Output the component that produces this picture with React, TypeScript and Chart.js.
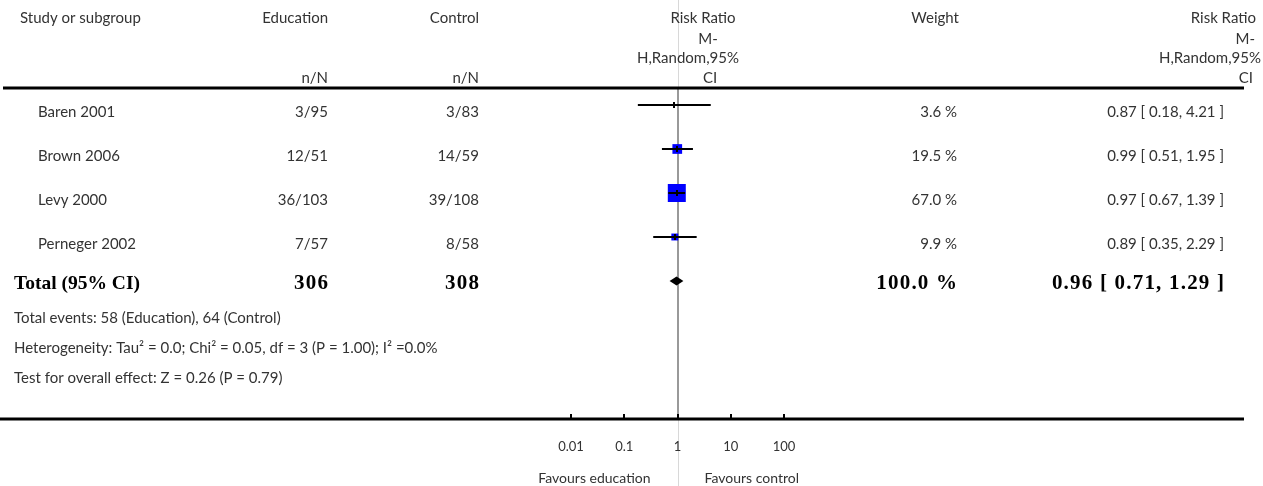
import React, { useEffect, useRef } from "react";
import { Chart, registerables } from "chart.js";

Chart.register(...registerables);

// ---- data ----
const studies = ["Baren 2001", "Brown 2006", "Levy 2000", "Perneger 2002"];
const eduEvents = [3, 12, 36, 7];
const eduTotal = [95, 51, 103, 57];
const ctrlEvents = [3, 14, 39, 8];
const ctrlTotal = [83, 59, 108, 58];
const weights = [3.6, 19.5, 67.0, 9.9];
const riskRatio = [0.87, 0.99, 0.97, 0.89];
const ciLow = [0.18, 0.51, 0.67, 0.35];
const ciHigh = [4.21, 1.95, 1.39, 2.29];
const totalEdu = 306;
const totalCtrl = 308;
const totalWeight = 100.0;
const totalRR = 0.96;
const totalLow = 0.71;
const totalHigh = 1.29;
const totalEventsEdu = 58;
const totalEventsCtrl = 64;
const tickValues = [0.01, 0.1, 1, 10, 100];
const tickLabels = ["0.01", "0.1", "1", "10", "100"];
const footnotes = [
  `Total events: ${totalEventsEdu} (Education), ${totalEventsCtrl} (Control)`,
  "Heterogeneity: Tau\u00B2 = 0.0; Chi\u00B2 = 0.05, df = 3 (P = 1.00); I\u00B2 =0.0%",
  "Test for overall effect: Z = 0.26 (P = 0.79)",
];

// ---- layout ----
const W = 1263;
const H = 486;
const SANS = "Lato, 'Open Sans', sans-serif";
const SERIF = "'Liberation Serif', 'DejaVu Serif', serif";
const TEXT = "#333";

const fmt2 = (v: number) => v.toFixed(2);
const ciText = (r: number, l: number, h: number) => `${fmt2(r)} [ ${fmt2(l)}, ${fmt2(h)} ]`;

const forestPlugin = {
  id: "forest",
  beforeDatasetsDraw(chart: any) {
    const ctx = chart.ctx;
    const xs = chart.scales.x;
    const area = chart.chartArea;
    const x1 = Math.round(xs.getPixelForValue(1));
    ctx.save();
    ctx.strokeStyle = "#d8d8d8";
    ctx.lineWidth = 1;
    ctx.beginPath();
    ctx.moveTo(x1 + 0.5, 0);
    ctx.lineTo(x1 + 0.5, H);
    ctx.stroke();
    ctx.strokeStyle = "#999";
    ctx.lineWidth = 2;
    ctx.beginPath();
    ctx.moveTo(x1, area.top);
    ctx.lineTo(x1, area.bottom);
    ctx.stroke();
    ctx.restore();
  },
  afterDatasetsDraw(chart: any) {
    const ctx = chart.ctx;
    const xs = chart.scales.x;
    const ys = chart.scales.y;
    ctx.save();
    ctx.strokeStyle = "#000";
    ctx.lineCap = "butt";
    studies.forEach((_, i) => {
      const y = Math.round(ys.getPixelForValue(i + 1));
      const xl = xs.getPixelForValue(ciLow[i]);
      const xh = xs.getPixelForValue(ciHigh[i]);
      const xp = Math.round(xs.getPixelForValue(riskRatio[i]));
      ctx.lineWidth = 2;
      ctx.beginPath();
      ctx.moveTo(xl, y);
      ctx.lineTo(xh, y);
      ctx.stroke();
      ctx.beginPath();
      ctx.moveTo(xp, y - 3);
      ctx.lineTo(xp, y + 3);
      ctx.stroke();
    });
    const yt = ys.getPixelForValue(studies.length + 1);
    ctx.fillStyle = "#000";
    ctx.beginPath();
    ctx.moveTo(xs.getPixelForValue(totalLow), yt);
    ctx.lineTo(xs.getPixelForValue(totalRR), yt - 4.5);
    ctx.lineTo(xs.getPixelForValue(totalHigh), yt);
    ctx.lineTo(xs.getPixelForValue(totalRR), yt + 4.5);
    ctx.closePath();
    ctx.fill();
    ctx.restore();
  },
  afterDraw(chart: any) {
    const ctx = chart.ctx;
    const xs = chart.scales.x;
    const ys = chart.scales.y;
    const area = chart.chartArea;
    ctx.save();
    ctx.strokeStyle = "#000";
    ctx.lineWidth = 3;
    ctx.beginPath();
    ctx.moveTo(3, area.top);
    ctx.lineTo(1244, area.top);
    ctx.moveTo(0, area.bottom);
    ctx.lineTo(1244, area.bottom);
    ctx.stroke();
    ctx.lineWidth = 2;
    tickValues.forEach((v) => {
      const x = Math.round(xs.getPixelForValue(v));
      ctx.beginPath();
      ctx.moveTo(x, area.bottom);
      ctx.lineTo(x, area.bottom - 5);
      ctx.stroke();
    });

    const text = (
      s: string,
      x: number,
      y: number,
      align: CanvasTextAlign,
      font: string,
      color = TEXT,
      spacing = 0
    ) => {
      ctx.font = font;
      ctx.fillStyle = color;
      ctx.textAlign = align;
      ctx.textBaseline = "middle";
      (ctx as any).letterSpacing = `${spacing}px`;
      ctx.fillText(s, align === "right" ? x + spacing : x, y);
      (ctx as any).letterSpacing = "0px";
    };
    const reg = `15px ${SANS}`;
    const boldLabel = `bold 19.5px ${SERIF}`;
    const boldNum = `bold 21px ${SERIF}`;

    // headers
    text("Study or subgroup", 20, 18, "left", reg);
    text("Education", 328, 18, "right", reg);
    text("n/N", 328, 78, "right", reg);
    text("Control", 479, 18, "right", reg);
    text("n/N", 479, 78, "right", reg);
    text("Risk Ratio", 703, 18, "center", reg);
    text("M-", 708, 39, "center", reg);
    text("H,Random,95%", 688, 58, "center", reg);
    text("CI", 710, 78, "center", reg);
    text("Weight", 959, 18, "right", reg);
    text("Risk Ratio", 1256, 18, "right", reg);
    text("M-", 1255, 39, "right", reg);
    text("H,Random,95%", 1261, 58, "right", reg);
    text("CI", 1253, 78, "right", reg);

    // study rows
    studies.forEach((name, i) => {
      const y = ys.getPixelForValue(i + 1) + 7;
      text(name, 38, y, "left", reg);
      text(`${eduEvents[i]}/${eduTotal[i]}`, 328, y, "right", reg);
      text(`${ctrlEvents[i]}/${ctrlTotal[i]}`, 479, y, "right", reg);
      text(`${weights[i].toFixed(1)} %`, 957, y, "right", reg);
      text(ciText(riskRatio[i], ciLow[i], ciHigh[i]), 1224, y, "right", reg);
    });

    // total row
    const yt = ys.getPixelForValue(studies.length + 1) + 3;
    text("Total (95% CI)", 14, yt, "left", boldLabel, "#000");
    text(String(totalEdu), 328, yt, "right", boldNum, "#000", 1.2);
    text(String(totalCtrl), 479, yt, "right", boldNum, "#000", 1.2);
    text(`${totalWeight.toFixed(1)} %`, 957, yt, "right", boldNum, "#000", 1.2);
    text(ciText(totalRR, totalLow, totalHigh), 1224, yt, "right", boldNum, "#000", 1.2);

    // footnotes
    footnotes.forEach((s, i) => text(s, 14, 318 + i * 30, "left", reg));

    // tick labels
    tickValues.forEach((v, i) => {
      text(tickLabels[i], xs.getPixelForValue(v), area.bottom + 28, "center", `13px ${SANS}`);
    });
    const x1 = xs.getPixelForValue(1);
    text("Favours education", x1 - 27, area.bottom + 59, "right", `14px ${SANS}`);
    text("Favours control", x1 + 27, area.bottom + 59, "left", `14px ${SANS}`);
    ctx.restore();
  },
};

export default function App() {
  const ref = useRef<HTMLCanvasElement | null>(null);
  useEffect(() => {
    if (!ref.current) return;
    const maxW = Math.max(...weights);
    const chart = new Chart(ref.current, {
      type: "scatter",
      data: {
        datasets: [
          {
            data: studies.map((_, i) => ({ x: riskRatio[i], y: i + 1 })),
            pointStyle: "rect",
            backgroundColor: "#0000ff",
            borderWidth: 0,
            pointRadius: (c: any) => {
              const side = 18 * Math.sqrt(weights[c.dataIndex] / maxW);
              return side < 5 ? 0 : side / (2 * Math.SQRT1_2);
            },
            pointHoverRadius: 0,
          } as any,
        ],
      },
      options: {
        animation: false,
        responsive: false,
        devicePixelRatio: 1,
        events: [],
        layout: { padding: { left: 571, right: W - 784, top: 88, bottom: H - 419 } },
        plugins: { legend: { display: false }, tooltip: { enabled: false }, title: { display: false } },
        scales: {
          x: { type: "logarithmic", min: 0.01, max: 100, display: false },
          y: { type: "linear", min: 0.614, max: 8.136, reverse: true, display: false },
        },
      },
      plugins: [forestPlugin],
    });
    return () => chart.destroy();
  }, []);
  return (
    <div style={{ position: "absolute", left: 0, top: 0, width: W, height: H, background: "#fff" }}>
      <canvas ref={ref} width={W} height={H} style={{ width: W, height: H, display: "block" }} />
    </div>
  );
}
